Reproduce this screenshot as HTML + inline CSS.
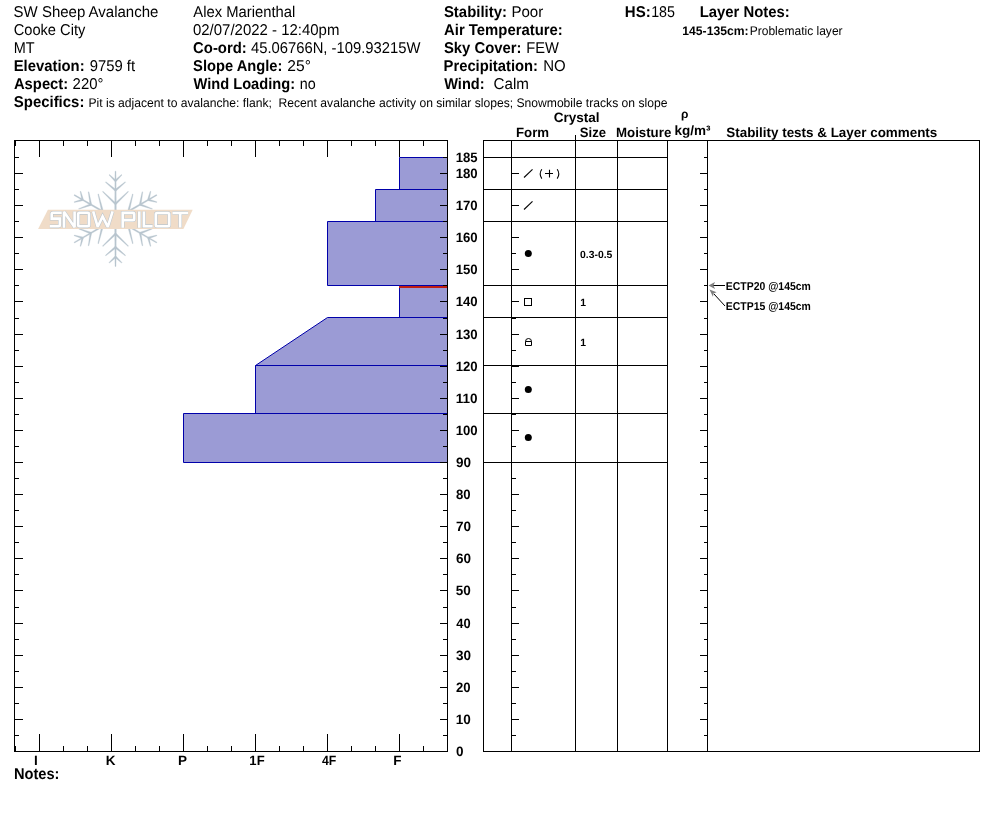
<!DOCTYPE html>
<html><head><meta charset="utf-8"><style>
html,body{margin:0;padding:0;background:#fff;}
svg{display:block;will-change:transform;}
text{font-family:"Liberation Sans",sans-serif;white-space:pre;text-rendering:geometricPrecision;}
</style></head><body>
<svg width="994" height="840" viewBox="0 0 994 840">
<rect width="994" height="840" fill="#fff"/>
<g><polygon points="115.95,219.58 156.97,195.43 156.47,194.57 115.05,218.02" fill="#b8c5ce" stroke="#b8c5ce" stroke-width="0.3" stroke-linejoin="round"/><polygon points="129.36,211.52 133.14,194.11 132.46,193.94 127.62,211.08" fill="#b8c5ce" stroke="#b8c5ce" stroke-width="0.3" stroke-linejoin="round"/><polygon points="128.24,212.17 145.50,216.54 145.70,215.87 128.74,210.43" fill="#b8c5ce" stroke="#b8c5ce" stroke-width="0.3" stroke-linejoin="round"/><polygon points="141.07,204.71 142.77,191.91 142.08,191.79 139.30,204.39" fill="#b8c5ce" stroke="#b8c5ce" stroke-width="0.3" stroke-linejoin="round"/><polygon points="139.87,205.40 152.18,209.29 152.42,208.63 140.49,203.70" fill="#b8c5ce" stroke="#b8c5ce" stroke-width="0.3" stroke-linejoin="round"/><polygon points="149.28,200.02 150.85,191.44 150.17,191.27 147.54,199.58" fill="#b8c5ce" stroke="#b8c5ce" stroke-width="0.3" stroke-linejoin="round"/><polygon points="148.16,200.67 156.68,202.53 156.87,201.86 148.66,198.93" fill="#b8c5ce" stroke="#b8c5ce" stroke-width="0.3" stroke-linejoin="round"/><polygon points="116.40,218.80 116.00,171.20 115.00,171.20 114.60,218.80" fill="#b8c5ce" stroke="#b8c5ce" stroke-width="0.3" stroke-linejoin="round"/><polygon points="116.13,203.15 102.94,191.18 102.45,191.69 114.87,204.45" fill="#b8c5ce" stroke="#b8c5ce" stroke-width="0.3" stroke-linejoin="round"/><polygon points="116.13,204.45 128.55,191.69 128.06,191.18 114.87,203.15" fill="#b8c5ce" stroke="#b8c5ce" stroke-width="0.3" stroke-linejoin="round"/><polygon points="116.08,189.61 105.84,181.74 105.39,182.28 114.92,190.99" fill="#b8c5ce" stroke="#b8c5ce" stroke-width="0.3" stroke-linejoin="round"/><polygon points="116.08,190.99 125.61,182.28 125.16,181.74 114.92,189.61" fill="#b8c5ce" stroke="#b8c5ce" stroke-width="0.3" stroke-linejoin="round"/><polygon points="116.13,180.15 109.48,174.50 109.00,175.01 114.87,181.45" fill="#b8c5ce" stroke="#b8c5ce" stroke-width="0.3" stroke-linejoin="round"/><polygon points="116.13,181.45 122.00,175.01 121.52,174.50 114.87,180.15" fill="#b8c5ce" stroke="#b8c5ce" stroke-width="0.3" stroke-linejoin="round"/><polygon points="115.95,218.02 74.53,194.57 74.03,195.43 115.05,219.58" fill="#b8c5ce" stroke="#b8c5ce" stroke-width="0.3" stroke-linejoin="round"/><polygon points="102.26,210.43 85.30,215.87 85.50,216.54 102.76,212.17" fill="#b8c5ce" stroke="#b8c5ce" stroke-width="0.3" stroke-linejoin="round"/><polygon points="103.38,211.08 98.54,193.94 97.86,194.11 101.64,211.52" fill="#b8c5ce" stroke="#b8c5ce" stroke-width="0.3" stroke-linejoin="round"/><polygon points="90.51,203.70 78.58,208.63 78.82,209.29 91.13,205.40" fill="#b8c5ce" stroke="#b8c5ce" stroke-width="0.3" stroke-linejoin="round"/><polygon points="91.70,204.39 88.92,191.79 88.23,191.91 89.93,204.71" fill="#b8c5ce" stroke="#b8c5ce" stroke-width="0.3" stroke-linejoin="round"/><polygon points="82.34,198.93 74.13,201.86 74.32,202.53 82.84,200.67" fill="#b8c5ce" stroke="#b8c5ce" stroke-width="0.3" stroke-linejoin="round"/><polygon points="83.46,199.58 80.83,191.27 80.15,191.44 81.72,200.02" fill="#b8c5ce" stroke="#b8c5ce" stroke-width="0.3" stroke-linejoin="round"/><polygon points="115.05,218.02 74.03,242.17 74.53,243.03 115.95,219.58" fill="#b8c5ce" stroke="#b8c5ce" stroke-width="0.3" stroke-linejoin="round"/><polygon points="101.64,226.08 97.86,243.49 98.54,243.66 103.38,226.52" fill="#b8c5ce" stroke="#b8c5ce" stroke-width="0.3" stroke-linejoin="round"/><polygon points="102.76,225.43 85.50,221.06 85.30,221.73 102.26,227.17" fill="#b8c5ce" stroke="#b8c5ce" stroke-width="0.3" stroke-linejoin="round"/><polygon points="89.93,232.89 88.23,245.69 88.92,245.81 91.70,233.21" fill="#b8c5ce" stroke="#b8c5ce" stroke-width="0.3" stroke-linejoin="round"/><polygon points="91.13,232.20 78.82,228.31 78.58,228.97 90.51,233.90" fill="#b8c5ce" stroke="#b8c5ce" stroke-width="0.3" stroke-linejoin="round"/><polygon points="81.72,237.58 80.15,246.16 80.83,246.33 83.46,238.02" fill="#b8c5ce" stroke="#b8c5ce" stroke-width="0.3" stroke-linejoin="round"/><polygon points="82.84,236.93 74.32,235.07 74.13,235.74 82.34,238.67" fill="#b8c5ce" stroke="#b8c5ce" stroke-width="0.3" stroke-linejoin="round"/><polygon points="114.60,218.80 115.00,266.40 116.00,266.40 116.40,218.80" fill="#b8c5ce" stroke="#b8c5ce" stroke-width="0.3" stroke-linejoin="round"/><polygon points="114.87,234.45 128.06,246.42 128.55,245.91 116.13,233.15" fill="#b8c5ce" stroke="#b8c5ce" stroke-width="0.3" stroke-linejoin="round"/><polygon points="114.87,233.15 102.45,245.91 102.94,246.42 116.13,234.45" fill="#b8c5ce" stroke="#b8c5ce" stroke-width="0.3" stroke-linejoin="round"/><polygon points="114.92,247.99 125.16,255.86 125.61,255.32 116.08,246.61" fill="#b8c5ce" stroke="#b8c5ce" stroke-width="0.3" stroke-linejoin="round"/><polygon points="114.92,246.61 105.39,255.32 105.84,255.86 116.08,247.99" fill="#b8c5ce" stroke="#b8c5ce" stroke-width="0.3" stroke-linejoin="round"/><polygon points="114.87,257.45 121.52,263.10 122.00,262.59 116.13,256.15" fill="#b8c5ce" stroke="#b8c5ce" stroke-width="0.3" stroke-linejoin="round"/><polygon points="114.87,256.15 109.00,262.59 109.48,263.10 116.13,257.45" fill="#b8c5ce" stroke="#b8c5ce" stroke-width="0.3" stroke-linejoin="round"/><polygon points="115.05,219.58 156.47,243.03 156.97,242.17 115.95,218.02" fill="#b8c5ce" stroke="#b8c5ce" stroke-width="0.3" stroke-linejoin="round"/><polygon points="128.74,227.17 145.70,221.73 145.50,221.06 128.24,225.43" fill="#b8c5ce" stroke="#b8c5ce" stroke-width="0.3" stroke-linejoin="round"/><polygon points="127.62,226.52 132.46,243.66 133.14,243.49 129.36,226.08" fill="#b8c5ce" stroke="#b8c5ce" stroke-width="0.3" stroke-linejoin="round"/><polygon points="140.49,233.90 152.42,228.97 152.18,228.31 139.87,232.20" fill="#b8c5ce" stroke="#b8c5ce" stroke-width="0.3" stroke-linejoin="round"/><polygon points="139.30,233.21 142.08,245.81 142.77,245.69 141.07,232.89" fill="#b8c5ce" stroke="#b8c5ce" stroke-width="0.3" stroke-linejoin="round"/><polygon points="148.66,238.67 156.87,235.74 156.68,235.07 148.16,236.93" fill="#b8c5ce" stroke="#b8c5ce" stroke-width="0.3" stroke-linejoin="round"/><polygon points="147.54,238.02 150.17,246.33 150.85,246.16 149.28,237.58" fill="#b8c5ce" stroke="#b8c5ce" stroke-width="0.3" stroke-linejoin="round"/><polygon points="47.9,209.8 192.7,209.8 183.4,229 38.1,229" fill="#f0dcc8"/><path d="M61.7,212.8 H52.9 Q51.7,212.8 51.7,214 V218.6 H59.85 V225.1 Q59.85,226.3 58.65,226.3 H49.8" fill="none" stroke="#bcc6ce" stroke-width="3.7" stroke-linejoin="miter" stroke-miterlimit="2.5"/><path d="M64,227.8 V211.8 L74.6,227.2 V211.4" fill="none" stroke="#bcc6ce" stroke-width="3.7" stroke-linejoin="miter" stroke-miterlimit="2.5"/><path d="M79.4,212.8 H87.8 Q89,212.8 89,214 V225.1 Q89,226.3 87.8,226.3 H79.4 Q78.2,226.3 78.2,225.1 V214 Q78.2,212.8 79.4,212.8 Z" fill="none" stroke="#bcc6ce" stroke-width="3.7" stroke-linejoin="miter" stroke-miterlimit="2.5"/><path d="M93.2,211.4 L97.7,226.8 L102.6,216.5 L107.8,226.8 L112.6,211.4" fill="none" stroke="#bcc6ce" stroke-width="3.7" stroke-linejoin="miter" stroke-miterlimit="2.5"/><path d="M122.7,227.8 V212.9 H133 Q134.2,212.9 134.2,214.1 V218.9 Q134.2,220.1 133,220.1 H122.7" fill="none" stroke="#bcc6ce" stroke-width="3.7" stroke-linejoin="miter" stroke-miterlimit="2.5"/><path d="M139.3,211.4 V227.8" fill="none" stroke="#bcc6ce" stroke-width="3.7" stroke-linejoin="miter" stroke-miterlimit="2.5"/><path d="M143.9,211.4 V226.2 H152.6" fill="none" stroke="#bcc6ce" stroke-width="3.7" stroke-linejoin="miter" stroke-miterlimit="2.5"/><path d="M157,213 H168 Q169.2,213 169.2,214.2 V225 Q169.2,226.2 168,226.2 H157 Q155.8,226.2 155.8,225 V214.2 Q155.8,213 157,213 Z" fill="none" stroke="#bcc6ce" stroke-width="3.7" stroke-linejoin="miter" stroke-miterlimit="2.5"/><path d="M172.5,213 H188.1 M180.2,213 V227.6" fill="none" stroke="#bcc6ce" stroke-width="3.7" stroke-linejoin="miter" stroke-miterlimit="2.5"/><path d="M61.7,212.8 H52.9 Q51.7,212.8 51.7,214 V218.6 H59.85 V225.1 Q59.85,226.3 58.65,226.3 H49.8" fill="none" stroke="#ffffff" stroke-width="2.6" stroke-linejoin="miter" stroke-miterlimit="2.5"/><path d="M64,227.8 V211.8 L74.6,227.2 V211.4" fill="none" stroke="#ffffff" stroke-width="2.6" stroke-linejoin="miter" stroke-miterlimit="2.5"/><path d="M79.4,212.8 H87.8 Q89,212.8 89,214 V225.1 Q89,226.3 87.8,226.3 H79.4 Q78.2,226.3 78.2,225.1 V214 Q78.2,212.8 79.4,212.8 Z" fill="none" stroke="#ffffff" stroke-width="2.6" stroke-linejoin="miter" stroke-miterlimit="2.5"/><path d="M93.2,211.4 L97.7,226.8 L102.6,216.5 L107.8,226.8 L112.6,211.4" fill="none" stroke="#ffffff" stroke-width="2.6" stroke-linejoin="miter" stroke-miterlimit="2.5"/><path d="M122.7,227.8 V212.9 H133 Q134.2,212.9 134.2,214.1 V218.9 Q134.2,220.1 133,220.1 H122.7" fill="none" stroke="#ffffff" stroke-width="2.6" stroke-linejoin="miter" stroke-miterlimit="2.5"/><path d="M139.3,211.4 V227.8" fill="none" stroke="#ffffff" stroke-width="2.6" stroke-linejoin="miter" stroke-miterlimit="2.5"/><path d="M143.9,211.4 V226.2 H152.6" fill="none" stroke="#ffffff" stroke-width="2.6" stroke-linejoin="miter" stroke-miterlimit="2.5"/><path d="M157,213 H168 Q169.2,213 169.2,214.2 V225 Q169.2,226.2 168,226.2 H157 Q155.8,226.2 155.8,225 V214.2 Q155.8,213 157,213 Z" fill="none" stroke="#ffffff" stroke-width="2.6" stroke-linejoin="miter" stroke-miterlimit="2.5"/><path d="M172.5,213 H188.1 M180.2,213 V227.6" fill="none" stroke="#ffffff" stroke-width="2.6" stroke-linejoin="miter" stroke-miterlimit="2.5"/></g>
<g><polygon points="399.5,157.5 447.5,157.5 447.5,189.5 399.5,189.5" fill="#9b9bd5" stroke="#0000aa" stroke-width="1"/><polygon points="375.5,189.5 447.5,189.5 447.5,221.5 375.5,221.5" fill="#9b9bd5" stroke="#0000aa" stroke-width="1"/><polygon points="327.5,221.5 447.5,221.5 447.5,285.5 327.5,285.5" fill="#9b9bd5" stroke="#0000aa" stroke-width="1"/><polygon points="399.5,285.5 447.5,285.5 447.5,317.5 399.5,317.5" fill="#9b9bd5" stroke="#0000aa" stroke-width="1"/><polygon points="327.5,317.5 447.5,317.5 447.5,365.5 255.5,365.5" fill="#9b9bd5" stroke="#0000aa" stroke-width="1"/><polygon points="255.5,365.5 447.5,365.5 447.5,413.5 255.5,413.5" fill="#9b9bd5" stroke="#0000aa" stroke-width="1"/><polygon points="183.5,413.5 447.5,413.5 447.5,462.5 183.5,462.5" fill="#9b9bd5" stroke="#0000aa" stroke-width="1"/><rect x="399" y="286" width="48" height="2" fill="#c01e14"/></g>
<g shape-rendering="crispEdges"><line x1="14" y1="140.5" x2="448" y2="140.5" stroke="#000" stroke-width="1"/><line x1="14" y1="751.5" x2="448" y2="751.5" stroke="#000" stroke-width="1"/><line x1="14.5" y1="140" x2="14.5" y2="752" stroke="#000" stroke-width="1"/><line x1="447.5" y1="140" x2="447.5" y2="752" stroke="#000" stroke-width="1"/><line x1="15.5" y1="141" x2="15.5" y2="146" stroke="#000" stroke-width="1"/><line x1="15.5" y1="746" x2="15.5" y2="751" stroke="#000" stroke-width="1"/><line x1="39.5" y1="141" x2="39.5" y2="157" stroke="#000" stroke-width="1"/><line x1="39.5" y1="734" x2="39.5" y2="751" stroke="#000" stroke-width="1"/><line x1="63.5" y1="141" x2="63.5" y2="146" stroke="#000" stroke-width="1"/><line x1="63.5" y1="746" x2="63.5" y2="751" stroke="#000" stroke-width="1"/><line x1="87.5" y1="141" x2="87.5" y2="146" stroke="#000" stroke-width="1"/><line x1="87.5" y1="746" x2="87.5" y2="751" stroke="#000" stroke-width="1"/><line x1="111.5" y1="141" x2="111.5" y2="157" stroke="#000" stroke-width="1"/><line x1="111.5" y1="734" x2="111.5" y2="751" stroke="#000" stroke-width="1"/><line x1="135.5" y1="141" x2="135.5" y2="146" stroke="#000" stroke-width="1"/><line x1="135.5" y1="746" x2="135.5" y2="751" stroke="#000" stroke-width="1"/><line x1="159.5" y1="141" x2="159.5" y2="146" stroke="#000" stroke-width="1"/><line x1="159.5" y1="746" x2="159.5" y2="751" stroke="#000" stroke-width="1"/><line x1="183.5" y1="141" x2="183.5" y2="157" stroke="#000" stroke-width="1"/><line x1="183.5" y1="734" x2="183.5" y2="751" stroke="#000" stroke-width="1"/><line x1="207.5" y1="141" x2="207.5" y2="146" stroke="#000" stroke-width="1"/><line x1="207.5" y1="746" x2="207.5" y2="751" stroke="#000" stroke-width="1"/><line x1="231.5" y1="141" x2="231.5" y2="146" stroke="#000" stroke-width="1"/><line x1="231.5" y1="746" x2="231.5" y2="751" stroke="#000" stroke-width="1"/><line x1="255.5" y1="141" x2="255.5" y2="157" stroke="#000" stroke-width="1"/><line x1="255.5" y1="734" x2="255.5" y2="751" stroke="#000" stroke-width="1"/><line x1="279.5" y1="141" x2="279.5" y2="146" stroke="#000" stroke-width="1"/><line x1="279.5" y1="746" x2="279.5" y2="751" stroke="#000" stroke-width="1"/><line x1="303.5" y1="141" x2="303.5" y2="146" stroke="#000" stroke-width="1"/><line x1="303.5" y1="746" x2="303.5" y2="751" stroke="#000" stroke-width="1"/><line x1="327.5" y1="141" x2="327.5" y2="157" stroke="#000" stroke-width="1"/><line x1="327.5" y1="734" x2="327.5" y2="751" stroke="#000" stroke-width="1"/><line x1="351.5" y1="141" x2="351.5" y2="146" stroke="#000" stroke-width="1"/><line x1="351.5" y1="746" x2="351.5" y2="751" stroke="#000" stroke-width="1"/><line x1="375.5" y1="141" x2="375.5" y2="146" stroke="#000" stroke-width="1"/><line x1="375.5" y1="746" x2="375.5" y2="751" stroke="#000" stroke-width="1"/><line x1="399.5" y1="141" x2="399.5" y2="157" stroke="#000" stroke-width="1"/><line x1="399.5" y1="734" x2="399.5" y2="751" stroke="#000" stroke-width="1"/><line x1="423.5" y1="141" x2="423.5" y2="146" stroke="#000" stroke-width="1"/><line x1="423.5" y1="746" x2="423.5" y2="751" stroke="#000" stroke-width="1"/><line x1="447.5" y1="141" x2="447.5" y2="146" stroke="#000" stroke-width="1"/><line x1="447.5" y1="746" x2="447.5" y2="751" stroke="#000" stroke-width="1"/><line x1="15" y1="735.5" x2="19" y2="735.5" stroke="#000" stroke-width="1"/><line x1="443" y1="735.5" x2="447" y2="735.5" stroke="#000" stroke-width="1"/><line x1="15" y1="719.5" x2="23" y2="719.5" stroke="#000" stroke-width="1"/><line x1="440" y1="719.5" x2="447" y2="719.5" stroke="#000" stroke-width="1"/><line x1="15" y1="703.5" x2="19" y2="703.5" stroke="#000" stroke-width="1"/><line x1="443" y1="703.5" x2="447" y2="703.5" stroke="#000" stroke-width="1"/><line x1="15" y1="687.5" x2="23" y2="687.5" stroke="#000" stroke-width="1"/><line x1="440" y1="687.5" x2="447" y2="687.5" stroke="#000" stroke-width="1"/><line x1="15" y1="671.5" x2="19" y2="671.5" stroke="#000" stroke-width="1"/><line x1="443" y1="671.5" x2="447" y2="671.5" stroke="#000" stroke-width="1"/><line x1="15" y1="655.5" x2="23" y2="655.5" stroke="#000" stroke-width="1"/><line x1="440" y1="655.5" x2="447" y2="655.5" stroke="#000" stroke-width="1"/><line x1="15" y1="639.5" x2="19" y2="639.5" stroke="#000" stroke-width="1"/><line x1="443" y1="639.5" x2="447" y2="639.5" stroke="#000" stroke-width="1"/><line x1="15" y1="623.5" x2="23" y2="623.5" stroke="#000" stroke-width="1"/><line x1="440" y1="623.5" x2="447" y2="623.5" stroke="#000" stroke-width="1"/><line x1="15" y1="607.5" x2="19" y2="607.5" stroke="#000" stroke-width="1"/><line x1="443" y1="607.5" x2="447" y2="607.5" stroke="#000" stroke-width="1"/><line x1="15" y1="590.5" x2="23" y2="590.5" stroke="#000" stroke-width="1"/><line x1="440" y1="590.5" x2="447" y2="590.5" stroke="#000" stroke-width="1"/><line x1="15" y1="574.5" x2="19" y2="574.5" stroke="#000" stroke-width="1"/><line x1="443" y1="574.5" x2="447" y2="574.5" stroke="#000" stroke-width="1"/><line x1="15" y1="558.5" x2="23" y2="558.5" stroke="#000" stroke-width="1"/><line x1="440" y1="558.5" x2="447" y2="558.5" stroke="#000" stroke-width="1"/><line x1="15" y1="542.5" x2="19" y2="542.5" stroke="#000" stroke-width="1"/><line x1="443" y1="542.5" x2="447" y2="542.5" stroke="#000" stroke-width="1"/><line x1="15" y1="526.5" x2="23" y2="526.5" stroke="#000" stroke-width="1"/><line x1="440" y1="526.5" x2="447" y2="526.5" stroke="#000" stroke-width="1"/><line x1="15" y1="510.5" x2="19" y2="510.5" stroke="#000" stroke-width="1"/><line x1="443" y1="510.5" x2="447" y2="510.5" stroke="#000" stroke-width="1"/><line x1="15" y1="494.5" x2="23" y2="494.5" stroke="#000" stroke-width="1"/><line x1="440" y1="494.5" x2="447" y2="494.5" stroke="#000" stroke-width="1"/><line x1="15" y1="478.5" x2="19" y2="478.5" stroke="#000" stroke-width="1"/><line x1="443" y1="478.5" x2="447" y2="478.5" stroke="#000" stroke-width="1"/><line x1="15" y1="462.5" x2="23" y2="462.5" stroke="#000" stroke-width="1"/><line x1="440" y1="462.5" x2="447" y2="462.5" stroke="#000" stroke-width="1"/><line x1="15" y1="446.5" x2="19" y2="446.5" stroke="#000" stroke-width="1"/><line x1="443" y1="446.5" x2="447" y2="446.5" stroke="#000" stroke-width="1"/><line x1="15" y1="430.5" x2="23" y2="430.5" stroke="#000" stroke-width="1"/><line x1="440" y1="430.5" x2="447" y2="430.5" stroke="#000" stroke-width="1"/><line x1="15" y1="414.5" x2="19" y2="414.5" stroke="#000" stroke-width="1"/><line x1="443" y1="414.5" x2="447" y2="414.5" stroke="#000" stroke-width="1"/><line x1="15" y1="398.5" x2="23" y2="398.5" stroke="#000" stroke-width="1"/><line x1="440" y1="398.5" x2="447" y2="398.5" stroke="#000" stroke-width="1"/><line x1="15" y1="382.5" x2="19" y2="382.5" stroke="#000" stroke-width="1"/><line x1="443" y1="382.5" x2="447" y2="382.5" stroke="#000" stroke-width="1"/><line x1="15" y1="366.5" x2="23" y2="366.5" stroke="#000" stroke-width="1"/><line x1="440" y1="366.5" x2="447" y2="366.5" stroke="#000" stroke-width="1"/><line x1="15" y1="350.5" x2="19" y2="350.5" stroke="#000" stroke-width="1"/><line x1="443" y1="350.5" x2="447" y2="350.5" stroke="#000" stroke-width="1"/><line x1="15" y1="334.5" x2="23" y2="334.5" stroke="#000" stroke-width="1"/><line x1="440" y1="334.5" x2="447" y2="334.5" stroke="#000" stroke-width="1"/><line x1="15" y1="318.5" x2="19" y2="318.5" stroke="#000" stroke-width="1"/><line x1="443" y1="318.5" x2="447" y2="318.5" stroke="#000" stroke-width="1"/><line x1="15" y1="301.5" x2="23" y2="301.5" stroke="#000" stroke-width="1"/><line x1="440" y1="301.5" x2="447" y2="301.5" stroke="#000" stroke-width="1"/><line x1="15" y1="285.5" x2="19" y2="285.5" stroke="#000" stroke-width="1"/><line x1="443" y1="285.5" x2="447" y2="285.5" stroke="#000" stroke-width="1"/><line x1="15" y1="269.5" x2="23" y2="269.5" stroke="#000" stroke-width="1"/><line x1="440" y1="269.5" x2="447" y2="269.5" stroke="#000" stroke-width="1"/><line x1="15" y1="253.5" x2="19" y2="253.5" stroke="#000" stroke-width="1"/><line x1="443" y1="253.5" x2="447" y2="253.5" stroke="#000" stroke-width="1"/><line x1="15" y1="237.5" x2="23" y2="237.5" stroke="#000" stroke-width="1"/><line x1="440" y1="237.5" x2="447" y2="237.5" stroke="#000" stroke-width="1"/><line x1="15" y1="221.5" x2="19" y2="221.5" stroke="#000" stroke-width="1"/><line x1="443" y1="221.5" x2="447" y2="221.5" stroke="#000" stroke-width="1"/><line x1="15" y1="205.5" x2="23" y2="205.5" stroke="#000" stroke-width="1"/><line x1="440" y1="205.5" x2="447" y2="205.5" stroke="#000" stroke-width="1"/><line x1="15" y1="189.5" x2="19" y2="189.5" stroke="#000" stroke-width="1"/><line x1="443" y1="189.5" x2="447" y2="189.5" stroke="#000" stroke-width="1"/><line x1="15" y1="173.5" x2="23" y2="173.5" stroke="#000" stroke-width="1"/><line x1="440" y1="173.5" x2="447" y2="173.5" stroke="#000" stroke-width="1"/><line x1="15" y1="157.5" x2="19" y2="157.5" stroke="#000" stroke-width="1"/><line x1="443" y1="157.5" x2="447" y2="157.5" stroke="#000" stroke-width="1"/><line x1="483" y1="140.5" x2="980" y2="140.5" stroke="#000" stroke-width="1"/><line x1="483" y1="751.5" x2="980" y2="751.5" stroke="#000" stroke-width="1"/><line x1="483.5" y1="140" x2="483.5" y2="752" stroke="#000" stroke-width="1"/><line x1="511.5" y1="140" x2="511.5" y2="752" stroke="#000" stroke-width="1"/><line x1="575.5" y1="140" x2="575.5" y2="752" stroke="#000" stroke-width="1"/><line x1="617.5" y1="140" x2="617.5" y2="752" stroke="#000" stroke-width="1"/><line x1="667.5" y1="140" x2="667.5" y2="752" stroke="#000" stroke-width="1"/><line x1="707.5" y1="140" x2="707.5" y2="752" stroke="#000" stroke-width="1"/><line x1="979.5" y1="140" x2="979.5" y2="752" stroke="#000" stroke-width="1"/><line x1="575.5" y1="135" x2="575.5" y2="140" stroke="#000" stroke-width="1"/><line x1="483" y1="157.5" x2="668" y2="157.5" stroke="#000" stroke-width="1"/><line x1="483" y1="189.5" x2="668" y2="189.5" stroke="#000" stroke-width="1"/><line x1="483" y1="221.5" x2="668" y2="221.5" stroke="#000" stroke-width="1"/><line x1="483" y1="285.5" x2="668" y2="285.5" stroke="#000" stroke-width="1"/><line x1="483" y1="317.5" x2="668" y2="317.5" stroke="#000" stroke-width="1"/><line x1="483" y1="365.5" x2="668" y2="365.5" stroke="#000" stroke-width="1"/><line x1="483" y1="413.5" x2="668" y2="413.5" stroke="#000" stroke-width="1"/><line x1="483" y1="462.5" x2="668" y2="462.5" stroke="#000" stroke-width="1"/><line x1="512" y1="735.5" x2="516" y2="735.5" stroke="#000" stroke-width="1"/><line x1="704" y1="735.5" x2="707" y2="735.5" stroke="#000" stroke-width="1"/><line x1="512" y1="719.5" x2="519" y2="719.5" stroke="#000" stroke-width="1"/><line x1="700" y1="719.5" x2="707" y2="719.5" stroke="#000" stroke-width="1"/><line x1="512" y1="703.5" x2="516" y2="703.5" stroke="#000" stroke-width="1"/><line x1="704" y1="703.5" x2="707" y2="703.5" stroke="#000" stroke-width="1"/><line x1="512" y1="687.5" x2="519" y2="687.5" stroke="#000" stroke-width="1"/><line x1="700" y1="687.5" x2="707" y2="687.5" stroke="#000" stroke-width="1"/><line x1="512" y1="671.5" x2="516" y2="671.5" stroke="#000" stroke-width="1"/><line x1="704" y1="671.5" x2="707" y2="671.5" stroke="#000" stroke-width="1"/><line x1="512" y1="655.5" x2="519" y2="655.5" stroke="#000" stroke-width="1"/><line x1="700" y1="655.5" x2="707" y2="655.5" stroke="#000" stroke-width="1"/><line x1="512" y1="639.5" x2="516" y2="639.5" stroke="#000" stroke-width="1"/><line x1="704" y1="639.5" x2="707" y2="639.5" stroke="#000" stroke-width="1"/><line x1="512" y1="623.5" x2="519" y2="623.5" stroke="#000" stroke-width="1"/><line x1="700" y1="623.5" x2="707" y2="623.5" stroke="#000" stroke-width="1"/><line x1="512" y1="607.5" x2="516" y2="607.5" stroke="#000" stroke-width="1"/><line x1="704" y1="607.5" x2="707" y2="607.5" stroke="#000" stroke-width="1"/><line x1="512" y1="590.5" x2="519" y2="590.5" stroke="#000" stroke-width="1"/><line x1="700" y1="590.5" x2="707" y2="590.5" stroke="#000" stroke-width="1"/><line x1="512" y1="574.5" x2="516" y2="574.5" stroke="#000" stroke-width="1"/><line x1="704" y1="574.5" x2="707" y2="574.5" stroke="#000" stroke-width="1"/><line x1="512" y1="558.5" x2="519" y2="558.5" stroke="#000" stroke-width="1"/><line x1="700" y1="558.5" x2="707" y2="558.5" stroke="#000" stroke-width="1"/><line x1="512" y1="542.5" x2="516" y2="542.5" stroke="#000" stroke-width="1"/><line x1="704" y1="542.5" x2="707" y2="542.5" stroke="#000" stroke-width="1"/><line x1="512" y1="526.5" x2="519" y2="526.5" stroke="#000" stroke-width="1"/><line x1="700" y1="526.5" x2="707" y2="526.5" stroke="#000" stroke-width="1"/><line x1="512" y1="510.5" x2="516" y2="510.5" stroke="#000" stroke-width="1"/><line x1="704" y1="510.5" x2="707" y2="510.5" stroke="#000" stroke-width="1"/><line x1="512" y1="494.5" x2="519" y2="494.5" stroke="#000" stroke-width="1"/><line x1="700" y1="494.5" x2="707" y2="494.5" stroke="#000" stroke-width="1"/><line x1="512" y1="478.5" x2="516" y2="478.5" stroke="#000" stroke-width="1"/><line x1="704" y1="478.5" x2="707" y2="478.5" stroke="#000" stroke-width="1"/><line x1="512" y1="462.5" x2="519" y2="462.5" stroke="#000" stroke-width="1"/><line x1="700" y1="462.5" x2="707" y2="462.5" stroke="#000" stroke-width="1"/><line x1="512" y1="446.5" x2="516" y2="446.5" stroke="#000" stroke-width="1"/><line x1="704" y1="446.5" x2="707" y2="446.5" stroke="#000" stroke-width="1"/><line x1="512" y1="430.5" x2="519" y2="430.5" stroke="#000" stroke-width="1"/><line x1="700" y1="430.5" x2="707" y2="430.5" stroke="#000" stroke-width="1"/><line x1="512" y1="414.5" x2="516" y2="414.5" stroke="#000" stroke-width="1"/><line x1="704" y1="414.5" x2="707" y2="414.5" stroke="#000" stroke-width="1"/><line x1="512" y1="398.5" x2="519" y2="398.5" stroke="#000" stroke-width="1"/><line x1="700" y1="398.5" x2="707" y2="398.5" stroke="#000" stroke-width="1"/><line x1="512" y1="382.5" x2="516" y2="382.5" stroke="#000" stroke-width="1"/><line x1="704" y1="382.5" x2="707" y2="382.5" stroke="#000" stroke-width="1"/><line x1="512" y1="366.5" x2="519" y2="366.5" stroke="#000" stroke-width="1"/><line x1="700" y1="366.5" x2="707" y2="366.5" stroke="#000" stroke-width="1"/><line x1="512" y1="350.5" x2="516" y2="350.5" stroke="#000" stroke-width="1"/><line x1="704" y1="350.5" x2="707" y2="350.5" stroke="#000" stroke-width="1"/><line x1="512" y1="334.5" x2="519" y2="334.5" stroke="#000" stroke-width="1"/><line x1="700" y1="334.5" x2="707" y2="334.5" stroke="#000" stroke-width="1"/><line x1="512" y1="318.5" x2="516" y2="318.5" stroke="#000" stroke-width="1"/><line x1="704" y1="318.5" x2="707" y2="318.5" stroke="#000" stroke-width="1"/><line x1="512" y1="301.5" x2="519" y2="301.5" stroke="#000" stroke-width="1"/><line x1="700" y1="301.5" x2="707" y2="301.5" stroke="#000" stroke-width="1"/><line x1="512" y1="285.5" x2="516" y2="285.5" stroke="#000" stroke-width="1"/><line x1="704" y1="285.5" x2="707" y2="285.5" stroke="#000" stroke-width="1"/><line x1="512" y1="269.5" x2="519" y2="269.5" stroke="#000" stroke-width="1"/><line x1="700" y1="269.5" x2="707" y2="269.5" stroke="#000" stroke-width="1"/><line x1="512" y1="253.5" x2="516" y2="253.5" stroke="#000" stroke-width="1"/><line x1="704" y1="253.5" x2="707" y2="253.5" stroke="#000" stroke-width="1"/><line x1="512" y1="237.5" x2="519" y2="237.5" stroke="#000" stroke-width="1"/><line x1="700" y1="237.5" x2="707" y2="237.5" stroke="#000" stroke-width="1"/><line x1="512" y1="221.5" x2="516" y2="221.5" stroke="#000" stroke-width="1"/><line x1="704" y1="221.5" x2="707" y2="221.5" stroke="#000" stroke-width="1"/><line x1="512" y1="205.5" x2="519" y2="205.5" stroke="#000" stroke-width="1"/><line x1="700" y1="205.5" x2="707" y2="205.5" stroke="#000" stroke-width="1"/><line x1="512" y1="189.5" x2="516" y2="189.5" stroke="#000" stroke-width="1"/><line x1="704" y1="189.5" x2="707" y2="189.5" stroke="#000" stroke-width="1"/><line x1="512" y1="173.5" x2="519" y2="173.5" stroke="#000" stroke-width="1"/><line x1="700" y1="173.5" x2="707" y2="173.5" stroke="#000" stroke-width="1"/><line x1="512" y1="157.5" x2="516" y2="157.5" stroke="#000" stroke-width="1"/><line x1="704" y1="157.5" x2="707" y2="157.5" stroke="#000" stroke-width="1"/></g>
<g><path d="M524,177.5 L532.5,169.3" stroke="#000" stroke-width="1.1" fill="none"/><path d="M524,209.5 L532.5,201.3" stroke="#000" stroke-width="1.1" fill="none"/><path d="M541.8,169.3 Q538.6,173.9 541.8,178.6" stroke="#000" stroke-width="1.1" fill="none"/><path d="M557.2,169.3 Q560.4,173.9 557.2,178.6" stroke="#000" stroke-width="1.1" fill="none"/><path d="M545,173.5 H553 M549.5,169.8 V177.6" stroke="#000" stroke-width="1.1" fill="none"/><circle cx="528.3" cy="253.5" r="3.5" fill="#000"/><circle cx="528.3" cy="389.5" r="3.5" fill="#000"/><circle cx="528.3" cy="437.5" r="3.5" fill="#000"/><rect x="524.5" y="298.5" width="7" height="7" fill="none" stroke="#000" stroke-width="1"/><path d="M525.5,345.5 V341.5 A3,3 0 0 1 531.5,341.5 V345.5 Z M525.5,341.5 H531.5" fill="none" stroke="#000" stroke-width="1"/><line x1="713" y1="285.5" x2="725" y2="285.5" stroke="#000" stroke-width="1"/><path d="M708.5,285.5 L715,282 L713.5,285.5 L715,289 Z" fill="#808080"/><line x1="714" y1="294" x2="725" y2="306" stroke="#000" stroke-width="1"/><path d="M709.5,289.5 L716.6,292.2 L713.6,293.5 L712.9,296.8 Z" fill="#808080"/></g>
<g><text x="13.60" y="17" font-size="15.6" font-weight="400" fill="#000" textLength="144.76" lengthAdjust="spacingAndGlyphs">SW Sheep Avalanche</text>
<text x="13.67" y="35" font-size="15.6" font-weight="400" fill="#000" textLength="71.65" lengthAdjust="spacingAndGlyphs">Cooke City</text>
<text x="13.70" y="53" font-size="15.6" font-weight="400" fill="#000" textLength="20.88" lengthAdjust="spacingAndGlyphs">MT</text>
<text x="13.74" y="71" font-size="15.6" font-weight="700" fill="#000" textLength="70.87" lengthAdjust="spacingAndGlyphs">Elevation:</text>
<text x="89.81" y="71" font-size="15.6" font-weight="400" fill="#000" textLength="45.31" lengthAdjust="spacingAndGlyphs">9759 ft</text>
<text x="13.92" y="89" font-size="15.6" font-weight="700" fill="#000" textLength="54.31" lengthAdjust="spacingAndGlyphs">Aspect:</text>
<text x="72.62" y="89" font-size="15.6" font-weight="400" fill="#000" textLength="30.83" lengthAdjust="spacingAndGlyphs">220°</text>
<text x="13.81" y="107" font-size="15.6" font-weight="700" fill="#000" textLength="70.57" lengthAdjust="spacingAndGlyphs">Specifics:</text>
<text x="88.48" y="107" font-size="12.48" font-weight="400" fill="#000" textLength="578.95" lengthAdjust="spacingAndGlyphs">Pit is adjacent to avalanche: flank;  Recent avalanche activity on similar slopes; Snowmobile tracks on slope</text>
<text x="193.34" y="17" font-size="15.6" font-weight="400" fill="#000" textLength="102.03" lengthAdjust="spacingAndGlyphs">Alex Marienthal</text>
<text x="192.96" y="35" font-size="15.6" font-weight="400" fill="#000" textLength="146.47" lengthAdjust="spacingAndGlyphs">02/07/2022 - 12:40pm</text>
<text x="193.12" y="53" font-size="15.6" font-weight="700" fill="#000" textLength="53.61" lengthAdjust="spacingAndGlyphs">Co-ord:</text>
<text x="250.94" y="53" font-size="15.6" font-weight="400" fill="#000" textLength="169.52" lengthAdjust="spacingAndGlyphs">45.06766N, -109.93215W</text>
<text x="193.11" y="71" font-size="15.6" font-weight="700" fill="#000" textLength="89.24" lengthAdjust="spacingAndGlyphs">Slope Angle:</text>
<text x="287.32" y="71" font-size="15.6" font-weight="400" fill="#000">25°</text>
<text x="193.44" y="89" font-size="15.6" font-weight="700" fill="#000" textLength="101.61" lengthAdjust="spacingAndGlyphs">Wind Loading:</text>
<text x="299.81" y="89" font-size="15.6" font-weight="400" fill="#000" textLength="15.96" lengthAdjust="spacingAndGlyphs">no</text>
<text x="443.91" y="17" font-size="15.6" font-weight="700" fill="#000" textLength="63.02" lengthAdjust="spacingAndGlyphs">Stability:</text>
<text x="511.40" y="17" font-size="15.6" font-weight="400" fill="#000" textLength="31.85" lengthAdjust="spacingAndGlyphs">Poor</text>
<text x="444.02" y="35" font-size="15.6" font-weight="700" fill="#000" textLength="118.76" lengthAdjust="spacingAndGlyphs">Air Temperature:</text>
<text x="443.91" y="53" font-size="15.6" font-weight="700" fill="#000" textLength="77.65" lengthAdjust="spacingAndGlyphs">Sky Cover:</text>
<text x="526.30" y="53" font-size="15.6" font-weight="400" fill="#000" textLength="32.64" lengthAdjust="spacingAndGlyphs">FEW</text>
<text x="443.54" y="71" font-size="15.6" font-weight="700" fill="#000" textLength="94.51" lengthAdjust="spacingAndGlyphs">Precipitation:</text>
<text x="543.30" y="71" font-size="15.6" font-weight="400" fill="#000" textLength="22.49" lengthAdjust="spacingAndGlyphs">NO</text>
<text x="444.24" y="89" font-size="15.6" font-weight="700" fill="#000" textLength="40.36" lengthAdjust="spacingAndGlyphs">Wind:</text>
<text x="493.57" y="89" font-size="15.6" font-weight="400" fill="#000" textLength="35.36" lengthAdjust="spacingAndGlyphs">Calm</text>
<text x="624.84" y="17" font-size="15.6" font-weight="700" fill="#000" textLength="25.89" lengthAdjust="spacingAndGlyphs">HS:</text>
<text x="651.19" y="17" font-size="15.6" font-weight="400" fill="#000" textLength="23.82" lengthAdjust="spacingAndGlyphs">185</text>
<text x="699.64" y="17" font-size="15.6" font-weight="700" fill="#000" textLength="90.21" lengthAdjust="spacingAndGlyphs">Layer Notes:</text>
<text x="682.32" y="35" font-size="12.48" font-weight="700" fill="#000" textLength="66.23" lengthAdjust="spacingAndGlyphs">145-135cm:</text>
<text x="749.68" y="35" font-size="12.48" font-weight="400" fill="#000" textLength="92.91" lengthAdjust="spacingAndGlyphs">Problematic layer</text>
<text x="553.69" y="122" font-size="13.52" font-weight="700" fill="#000">Crystal</text>
<text x="515.99" y="137" font-size="13.52" font-weight="700" fill="#000" textLength="33.10" lengthAdjust="spacingAndGlyphs">Form</text>
<text x="579.86" y="137" font-size="13.52" font-weight="700" fill="#000" textLength="26.18" lengthAdjust="spacingAndGlyphs">Size</text>
<text x="615.99" y="137" font-size="13.52" font-weight="700" fill="#000" textLength="55.29" lengthAdjust="spacingAndGlyphs">Moisture</text>
<text x="680.99" y="118" font-size="11.96" font-weight="700" fill="#000">ρ</text>
<text x="674.56" y="135" font-size="13.52" font-weight="700" fill="#000">kg/m³</text>
<text x="726.26" y="137" font-size="13.52" font-weight="700" fill="#000" textLength="211.06" lengthAdjust="spacingAndGlyphs">Stability tests &amp; Layer comments</text>
<text x="455.66" y="162" font-size="13.52" font-weight="700" fill="#000" textLength="21.91" lengthAdjust="spacingAndGlyphs">185</text>
<text x="455.66" y="178" font-size="13.52" font-weight="700" fill="#000" textLength="21.99" lengthAdjust="spacingAndGlyphs">180</text>
<text x="455.66" y="210" font-size="13.52" font-weight="700" fill="#000" textLength="21.99" lengthAdjust="spacingAndGlyphs">170</text>
<text x="455.66" y="242" font-size="13.52" font-weight="700" fill="#000" textLength="21.99" lengthAdjust="spacingAndGlyphs">160</text>
<text x="455.66" y="274" font-size="13.52" font-weight="700" fill="#000" textLength="21.99" lengthAdjust="spacingAndGlyphs">150</text>
<text x="455.66" y="306" font-size="13.52" font-weight="700" fill="#000" textLength="21.99" lengthAdjust="spacingAndGlyphs">140</text>
<text x="455.66" y="339" font-size="13.52" font-weight="700" fill="#000" textLength="21.99" lengthAdjust="spacingAndGlyphs">130</text>
<text x="455.66" y="371" font-size="13.52" font-weight="700" fill="#000" textLength="21.99" lengthAdjust="spacingAndGlyphs">120</text>
<text x="455.66" y="403" font-size="13.52" font-weight="700" fill="#000">110</text>
<text x="455.66" y="435" font-size="13.52" font-weight="700" fill="#000" textLength="21.99" lengthAdjust="spacingAndGlyphs">100</text>
<text x="455.97" y="467" font-size="13.52" font-weight="700" fill="#000">90</text>
<text x="456.02" y="499" font-size="13.52" font-weight="700" fill="#000" textLength="14.60" lengthAdjust="spacingAndGlyphs">80</text>
<text x="455.92" y="531" font-size="13.52" font-weight="700" fill="#000">70</text>
<text x="455.96" y="563" font-size="13.52" font-weight="700" fill="#000">60</text>
<text x="455.79" y="595" font-size="13.52" font-weight="700" fill="#000">50</text>
<text x="456.28" y="628" font-size="13.52" font-weight="700" fill="#000" textLength="14.34" lengthAdjust="spacingAndGlyphs">40</text>
<text x="455.89" y="660" font-size="13.52" font-weight="700" fill="#000">30</text>
<text x="456.02" y="692" font-size="13.52" font-weight="700" fill="#000" textLength="14.60" lengthAdjust="spacingAndGlyphs">20</text>
<text x="455.66" y="724" font-size="13.52" font-weight="700" fill="#000">10</text>
<text x="455.93" y="756" font-size="13.52" font-weight="700" fill="#000">0</text>
<text x="34.09" y="765" font-size="13.52" font-weight="700" fill="#000">I</text>
<text x="105.79" y="765" font-size="13.52" font-weight="700" fill="#000">K</text>
<text x="177.89" y="765" font-size="13.52" font-weight="700" fill="#000">P</text>
<text x="249.36" y="765" font-size="13.52" font-weight="700" fill="#000" textLength="15.26" lengthAdjust="spacingAndGlyphs">1F</text>
<text x="321.98" y="765" font-size="13.52" font-weight="700" fill="#000" textLength="14.34" lengthAdjust="spacingAndGlyphs">4F</text>
<text x="393.19" y="765" font-size="13.52" font-weight="700" fill="#000">F</text>
<text x="13.94" y="779" font-size="15.6" font-weight="700" fill="#000" textLength="45.57" lengthAdjust="spacingAndGlyphs">Notes:</text>
<text x="580.06" y="258" font-size="10.4" font-weight="700" fill="#000">0.3-0.5</text>
<text x="580.14" y="306" font-size="10.4" font-weight="700" fill="#000">1</text>
<text x="580.14" y="346" font-size="10.4" font-weight="700" fill="#000">1</text>
<text x="725.84" y="290" font-size="11.44" font-weight="700" fill="#000" textLength="84.99" lengthAdjust="spacingAndGlyphs">ECTP20 @145cm</text>
<text x="725.84" y="310" font-size="11.44" font-weight="700" fill="#000" textLength="84.99" lengthAdjust="spacingAndGlyphs">ECTP15 @145cm</text></g>
</svg>
</body></html>
